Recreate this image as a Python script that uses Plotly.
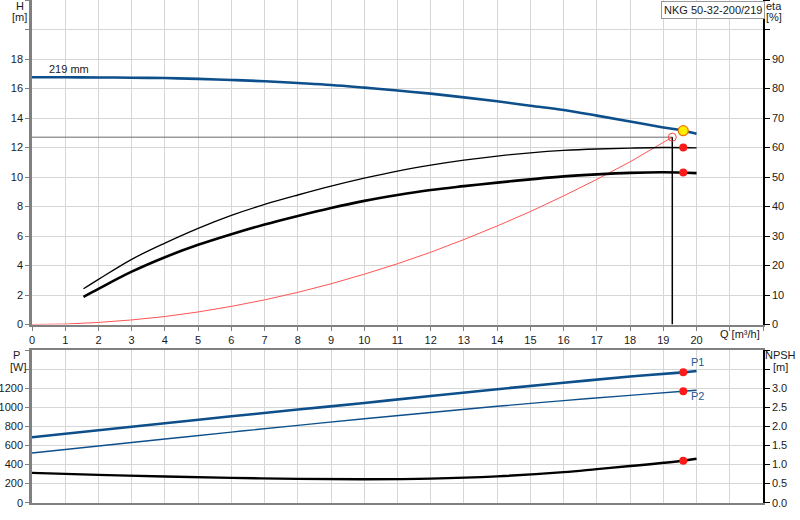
import plotly.graph_objects as go

# pump curve data
q_head = [0, 1, 2, 3, 4, 5, 6, 7, 8, 9, 10, 11, 12, 13, 14, 15, 16, 17, 18, 19, 19.6, 20]
head = [16.76, 16.76, 16.75, 16.73, 16.71, 16.65, 16.58, 16.49, 16.37, 16.24, 16.06,
        15.86, 15.65, 15.40, 15.13, 14.83, 14.54, 14.16, 13.76, 13.36, 13.14, 12.93]

q_eta = [1.55, 2, 3, 4, 5, 6, 7, 8, 9, 10, 11, 12, 13, 14, 15, 16, 17, 18, 19, 20]
eta_pump = [12.1, 15.3, 22.1, 27.6, 32.6, 37.0, 40.7, 43.9, 46.9, 49.6, 52.0, 54.0,
            55.7, 57.1, 58.2, 59.0, 59.5, 59.8, 60.0, 59.9]
eta_total = [9.4, 12.1, 17.9, 22.8, 27.0, 30.6, 33.9, 36.8, 39.5, 41.9, 43.9, 45.6,
             46.9, 48.1, 49.2, 50.2, 50.9, 51.4, 51.6, 51.3]

q_sys = [0, 1, 2, 3, 4, 5, 6, 7, 8, 9, 10, 11, 12, 13, 14, 15, 16, 17, 18, 19.27]
h_sys = [0, 0.03, 0.14, 0.31, 0.54, 0.85, 1.23, 1.67, 2.18, 2.76, 3.41, 4.12, 4.9,
         5.76, 6.68, 7.66, 8.72, 9.84, 11.03, 12.7]

q_pow = [0, 2, 4, 6, 8, 10, 12, 14, 16, 18, 19.6, 20]
p1 = [686, 759, 832, 905, 976, 1045, 1118, 1189, 1256, 1322, 1366, 1380]
p2 = [521, 594, 667, 740, 810, 880, 945, 1010, 1070, 1125, 1168, 1179]

q_npsh = [0, 2, 4, 6, 8, 10, 12, 14, 16, 17, 18, 19.6, 20]
npsh = [0.78, 0.73, 0.685, 0.65, 0.625, 0.615, 0.63, 0.69, 0.80, 0.88, 0.96, 1.10, 1.15]

# duty point / intersection with system curve
q_dp, h_dp = 19.27, 12.7
q_op = 19.6
op_head, op_eta_pump, op_eta_total = 13.14, 60.0, 51.5
op_p1, op_p2, op_npsh = 1366, 1168, 1.10

x_ticks = list(range(23))
x_labels = [str(i) for i in range(21)] + ["", ""]
h_ticks = list(range(0, 23, 2))
h_labels = [str(i) for i in range(0, 19, 2)] + ["", ""]
eta_ticks = list(range(0, 111, 10))
eta_labels = [str(i) for i in range(0, 91, 10)] + ["", ""]
p_ticks = list(range(0, 1601, 200))
p_labels = [str(i) for i in range(0, 1201, 200)] + ["", ""]
npsh_ticks = [i * 0.5 for i in range(9)]
npsh_labels = ["%.1f" % (i * 0.5) for i in range(7)] + ["", ""]

W, H = 800, 520
FONT = "Liberation Sans, Arial, sans-serif"
BLUE = "#0d4f8b"
GRID = "#d6d6d6"

def px(x):
    return x / W

def py(y):
    return 1 - y / H

fig = go.Figure()

# top chart
fig.add_trace(go.Scatter(x=q_sys, y=h_sys, mode="lines",
                         line=dict(color="#ff5454", width=1), xaxis="x", yaxis="y"))
fig.add_trace(go.Scatter(x=[0, q_dp], y=[h_dp, h_dp], mode="lines",
                         line=dict(color="#6a6a6a", width=1), xaxis="x", yaxis="y"))
fig.add_trace(go.Scatter(x=[q_dp, q_dp], y=[h_dp, 0], mode="lines",
                         line=dict(color="black", width=1.5), xaxis="x", yaxis="y"))
fig.add_trace(go.Scatter(x=q_eta, y=eta_pump, mode="lines", line_shape="spline",
                         line=dict(color="black", width=1.3), xaxis="x", yaxis="y2"))
fig.add_trace(go.Scatter(x=q_eta, y=eta_total, mode="lines", line_shape="spline",
                         line=dict(color="black", width=2.6), xaxis="x", yaxis="y2"))
fig.add_trace(go.Scatter(x=q_head, y=head, mode="lines", line_shape="spline",
                         line=dict(color=BLUE, width=2.6), xaxis="x", yaxis="y"))
fig.add_trace(go.Scatter(x=[q_dp], y=[h_dp], mode="markers",
                         marker=dict(symbol="circle-open", color="#ff4040", size=8,
                                     line=dict(width=1)), xaxis="x", yaxis="y"))
fig.add_trace(go.Scatter(x=[q_op, q_op], y=[op_eta_pump, op_eta_total], mode="markers",
                         marker=dict(color="#ff1a1a", size=8), xaxis="x", yaxis="y2"))
fig.add_trace(go.Scatter(x=[q_op], y=[op_head], mode="markers",
                         marker=dict(color="#ffee00", size=10,
                                     line=dict(color="#f07800", width=1.2)),
                         xaxis="x", yaxis="y"))

# bottom chart
fig.add_trace(go.Scatter(x=q_pow, y=p1, mode="lines", line_shape="spline",
                         line=dict(color=BLUE, width=2.6), xaxis="x2", yaxis="y3"))
fig.add_trace(go.Scatter(x=q_pow, y=p2, mode="lines", line_shape="spline",
                         line=dict(color=BLUE, width=1.4), xaxis="x2", yaxis="y3"))
fig.add_trace(go.Scatter(x=q_npsh, y=npsh, mode="lines", line_shape="spline",
                         line=dict(color="black", width=2.4), xaxis="x2", yaxis="y4"))
fig.add_trace(go.Scatter(x=[q_op, q_op], y=[op_p1, op_p2], mode="markers",
                         marker=dict(color="#ff1a1a", size=8), xaxis="x2", yaxis="y3"))
fig.add_trace(go.Scatter(x=[q_op], y=[op_npsh], mode="markers",
                         marker=dict(color="#ff1a1a", size=8), xaxis="x2", yaxis="y4"))

dom_x = [px(32), px(763)]
tick = dict(size=11, color="#1a1a1a", family=FONT)

fig.update_layout(
    width=W, height=H, margin=dict(l=0, r=0, t=0, b=0, autoexpand=False),
    paper_bgcolor="white", plot_bgcolor="white", showlegend=False,
    font=dict(family=FONT, size=11, color="#1a1a1a"),
    xaxis=dict(domain=dom_x, anchor="y", range=[0, 22], tickvals=x_ticks, ticktext=x_labels,
               showgrid=True, gridcolor=GRID, zeroline=False, showline=True,
               linecolor="#808080", linewidth=2, ticks="outside", ticklen=4,
               tickcolor="#808080", tickfont=tick, automargin=False),
    yaxis=dict(domain=[py(324.5), 1], anchor="x", range=[0, 22], tickvals=h_ticks,
               ticktext=h_labels, showgrid=True, gridcolor=GRID, zeroline=False,
               showline=True, linecolor="#808080", linewidth=2.5, ticks="outside",
               ticklen=4, tickcolor="#808080", tickfont=tick, automargin=False),
    yaxis2=dict(overlaying="y", side="right", anchor="x", range=[0, 110],
                tickvals=eta_ticks, ticktext=eta_labels, showgrid=False, zeroline=False,
                showline=True, linecolor="black", linewidth=1.5, ticks="outside",
                ticklen=5, tickcolor="black", tickfont=tick, automargin=False),
    xaxis2=dict(domain=dom_x, anchor="y3", range=[0, 22], tickvals=x_ticks,
                showticklabels=False, showgrid=True, gridcolor=GRID, zeroline=False,
                showline=True, mirror=True, linecolor="#808080", linewidth=2,
                automargin=False),
    yaxis3=dict(domain=[py(502.7), py(350)], anchor="x2", range=[0, 1600],
                tickvals=p_ticks, ticktext=p_labels, showgrid=True, gridcolor=GRID,
                zeroline=False, showline=True, linecolor="#808080", linewidth=2.5,
                ticks="outside", ticklen=4, tickcolor="#808080", tickfont=tick,
                automargin=False),
    yaxis4=dict(overlaying="y3", side="right", anchor="x2", range=[0, 4],
                tickvals=npsh_ticks, ticktext=npsh_labels, showgrid=False, zeroline=False,
                showline=True, linecolor="black", linewidth=1.5, ticks="outside",
                ticklen=5, tickcolor="black", tickfont=tick, automargin=False),
)

# axis titles and labels
labels = [("H", 20, 6), ("[m]", 19, 17.5), ("eta", 774, 6), ("[%]", 774, 17.5),
          ("P", 16, 355), ("[W]", 18, 367), ("NPSH", 780, 355), ("[m]", 780, 367),
          ("Q [m³/h]", 740, 334)]
for txt, x, y in labels:
    fig.add_annotation(text=txt, x=px(x), y=py(y), xref="paper", yref="paper",
                       showarrow=False, xanchor="center", yanchor="middle",
                       font=dict(size=11, color="#1a1a1a"))

fig.add_annotation(text="219 mm", x=1.1, y=17.3, xref="x", yref="y", showarrow=False,
                   font=dict(size=11, color="#1a1a1a"))
fig.add_annotation(text="P1", x=20.03, y=1478, xref="x2", yref="y3", showarrow=False,
                   font=dict(size=11, color="#1f5a96"))
fig.add_annotation(text="P2", x=20.03, y=1116, xref="x2", yref="y3", showarrow=False,
                   font=dict(size=11, color="#1f5a96"))
fig.add_annotation(text="NKG 50-32-200/219", x=px(713), y=py(0.5), xref="paper",
                   yref="paper", xanchor="center", yanchor="top", showarrow=False,
                   bgcolor="white", bordercolor="#9a9a9a", borderwidth=1, borderpad=2,
                   font=dict(size=11, color="#1a1a1a"))

# drop the default page margin so the chart sits at the window corner
fig.write_html("out.html", config={"displayModeBar": False},
               post_script="document.body.style.margin='0';")
